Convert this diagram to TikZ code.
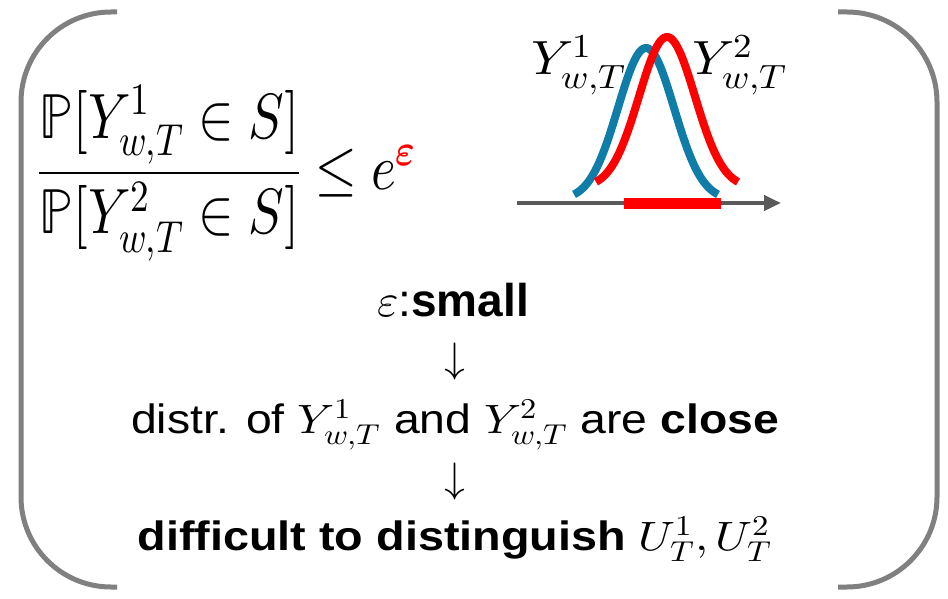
\documentclass[tikz,border=0pt]{standalone}
\usepackage{amsmath}
\usepackage{fontspec}
\usepackage{unicode-math}
\setmainfont{Liberation Sans}
\setmathfont{Latin Modern Math}
\usetikzlibrary{arrows.meta}
\definecolor{bblue}{RGB}{16,125,168}
\definecolor{bgray}{RGB}{128,128,128}
\definecolor{agray}{RGB}{90,90,90}
\begin{document}
\begin{tikzpicture}[x=1pt,y=-1pt,
  bracket/.style={draw=bgray, line width=5pt, rounded corners=90pt},
  txt/.style={inner sep=0pt, anchor=base, font=\fontsize{41}{48}\selectfont},
  bigtxt/.style={inner sep=0pt, anchor=base, font=\fontsize{46}{52}\selectfont},
  lbl/.style={inner sep=0pt, anchor=base west, font=\fontsize{48}{56}\selectfont},
  arr/.style={inner sep=0pt, anchor=base, font=\fontsize{42}{48}\selectfont},
  curve/.style={line width=8pt},
  axis/.style={draw=agray, line width=4.5pt, -{Triangle[length=17pt,width=15pt]}},
  interval/.style={draw=red, line width=11pt}]
\useasboundingbox (0,0) rectangle (948,599);
% brackets
\draw[bracket] (117,12) -- (21,12) -- (21,587) -- (117,587);
\draw[bracket] (838,12) -- (937,12) -- (937,587) -- (838,587);
% formula
\node[inner sep=0pt, anchor=west, font=\fontsize{64}{72}\selectfont] (frac) at (38,173)
  {\scalebox{0.83}[1]{$\dfrac{\mathbb{P}[Y^1_{w,T}\in S]}{\mathbb{P}[Y^2_{w,T}\in S]}\le e^{\textcolor{red}{\symbfit{\varepsilon}}}$}};
% distributions
\draw[bblue, curve] plot[domain=-72:72, samples=80] ({646+\x},{200-152*exp(-(\x*\x)/1568)});
\draw[red, curve] plot[domain=-71:71, samples=80] ({667+\x},{188-151*exp(-(\x*\x)/1568)});
\coordinate (a0) at (517,203);
\coordinate (a1) at (781,203);
\draw[axis] (a0) -- (a1);
\coordinate (s0) at (624,203);
\coordinate (s1) at (721,203);
\draw[interval] (s0) -- (s1);
\node[lbl] (y1) at (531,75) {\scalebox{1.1}[1]{$Y^1_{w,T}$}};
\node[lbl] (y2) at (692,75) {\scalebox{1.1}[1]{$Y^2_{w,T}$}};
% text chain
\node[bigtxt] (small) at (453,316) {$\varepsilon$:\textbf{small}};
\node[arr] (ar1) at (455,372) {$\downarrow$};
\node[txt] (close) at (455,433) {\scalebox{1.13}[1]{distr. of $Y^1_{w,T}$ and $Y^2_{w,T}$ are \textbf{close}}};
\node[arr] (ar2) at (455,492) {$\downarrow$};
\node[txt] (diff) at (455,550) {\scalebox{1.14}[1]{\textbf{difficult to distinguish} $U^1_T,U^2_T$}};
\end{tikzpicture}
\end{document}
